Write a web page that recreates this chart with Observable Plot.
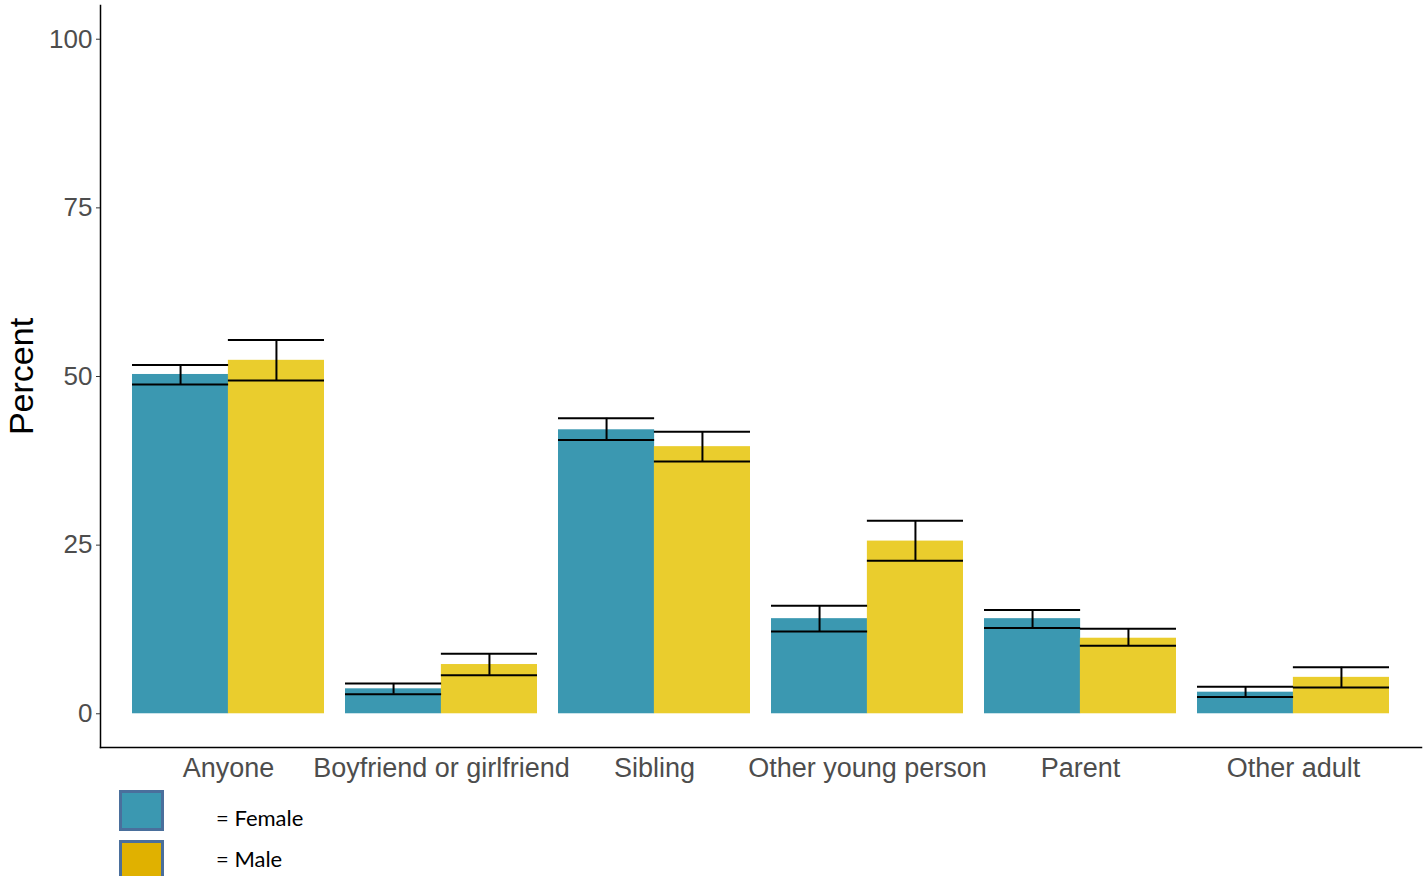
<!DOCTYPE html>
<html>
<head>
<meta charset="utf-8">
<script src="https://cdn.jsdelivr.net/npm/d3@7"></script>
<script src="https://cdn.jsdelivr.net/npm/@observablehq/plot@0.6"></script>
<style>
  html, body { margin: 0; padding: 0; background: #fff; }
  #wrap { position: relative; width: 1426px; height: 876px; overflow: hidden; background: #fff; }
  .sw { position: absolute; left: 119px; width: 39px; height: 35px; border: 3px solid #4A6F9C; }
  .lab { position: absolute; left: 216px; font-family: Lato, "Open Sans", sans-serif; font-size: 22px; color: #000; line-height: 1; }
</style>
</head>
<body>
<div id="wrap">
  <div id="chart"></div>
  <div class="sw" style="top:790px;background:#3B98B1"></div>
  <div class="lab" style="top:807px">= Female</div>
  <div class="sw" style="top:840px;background:#E0B100"></div>
  <div class="lab" style="top:848px">= Male</div>
</div>
<script>
const categories = ["Anyone", "Boyfriend or girlfriend", "Sibling", "Other young person", "Parent", "Other adult"];
const female     = [50.3, 3.7, 42.1, 14.1, 14.1, 3.2];
const femaleLow  = [48.8, 2.9, 40.6, 12.2, 12.7, 2.5];
const femaleHigh = [51.7, 4.5, 43.8, 16.0, 15.4, 4.0];
const male       = [52.4, 7.3, 39.6, 25.6, 11.2, 5.4];
const maleLow    = [49.4, 5.7, 37.4, 22.7, 10.1, 3.9];
const maleHigh   = [55.4, 8.9, 41.8, 28.6, 12.6, 6.9];
const yTicks = [0, 25, 50, 75, 100];
const femaleColor = "#3B98B1";
const maleColor = "#EACD2D";

const W = 1426, H = 790, mL = 100, mR = 5, mT = 5, mB = 43;
const pIn = 0.1, pOut = 0.15;
const step = (W - mL - mR) / (categories.length - pIn + 2 * pOut);
const half = step * (1 - pIn) / 2;

const rows = categories.map((c, i) => ({
  cat: c, f: female[i], fl: femaleLow[i], fh: femaleHigh[i],
  m: male[i], ml: maleLow[i], mh: maleHigh[i]
}));

const err = {stroke: "#000", strokeWidth: 2};

const chart = Plot.plot({
  width: W, height: H,
  marginLeft: mL, marginRight: mR, marginTop: mT, marginBottom: mB,
  style: {fontFamily: "'Liberation Sans', Arial, sans-serif", background: "#fff"},
  x: {domain: categories, paddingInner: pIn, paddingOuter: pOut, align: 0.5},
  y: {domain: [-5, 105]},
  marks: [
    Plot.barY(rows, {x: "cat", y: "f", fill: femaleColor, insetRight: half}),
    Plot.barY(rows, {x: "cat", y: "m", fill: maleColor, insetLeft: half}),
    Plot.tickY(rows, {x: "cat", y: "fh", insetRight: half, ...err}),
    Plot.tickY(rows, {x: "cat", y: "fl", insetRight: half, ...err}),
    Plot.tickY(rows, {x: "cat", y: "mh", insetLeft: half, ...err}),
    Plot.tickY(rows, {x: "cat", y: "ml", insetLeft: half, ...err}),
    Plot.ruleX(rows, {x: "cat", y1: "fl", y2: "fh", dx: -half / 2, ...err}),
    Plot.ruleX(rows, {x: "cat", y1: "ml", y2: "mh", dx: half / 2, ...err}),
    Plot.frame({anchor: "left", stroke: "#000", strokeWidth: 1.5}),
    Plot.frame({anchor: "bottom", stroke: "#000", strokeWidth: 1.5}),
    Plot.axisY({ticks: yTicks, tickSize: 4, tickPadding: 4, fontSize: 26, fill: "#4D4D4D", stroke: "#333", label: null}),
    Plot.axisX({tickSize: 0, tickPadding: 10, fontSize: 27, fill: "#4D4D4D", label: null}),
    Plot.text(["Percent"], {frameAnchor: "left", textAnchor: "middle", rotate: -90, dx: -78, fontSize: 34, fill: "#000"})
  ]
});
document.getElementById("chart").appendChild(chart);
</script>
</body>
</html>
